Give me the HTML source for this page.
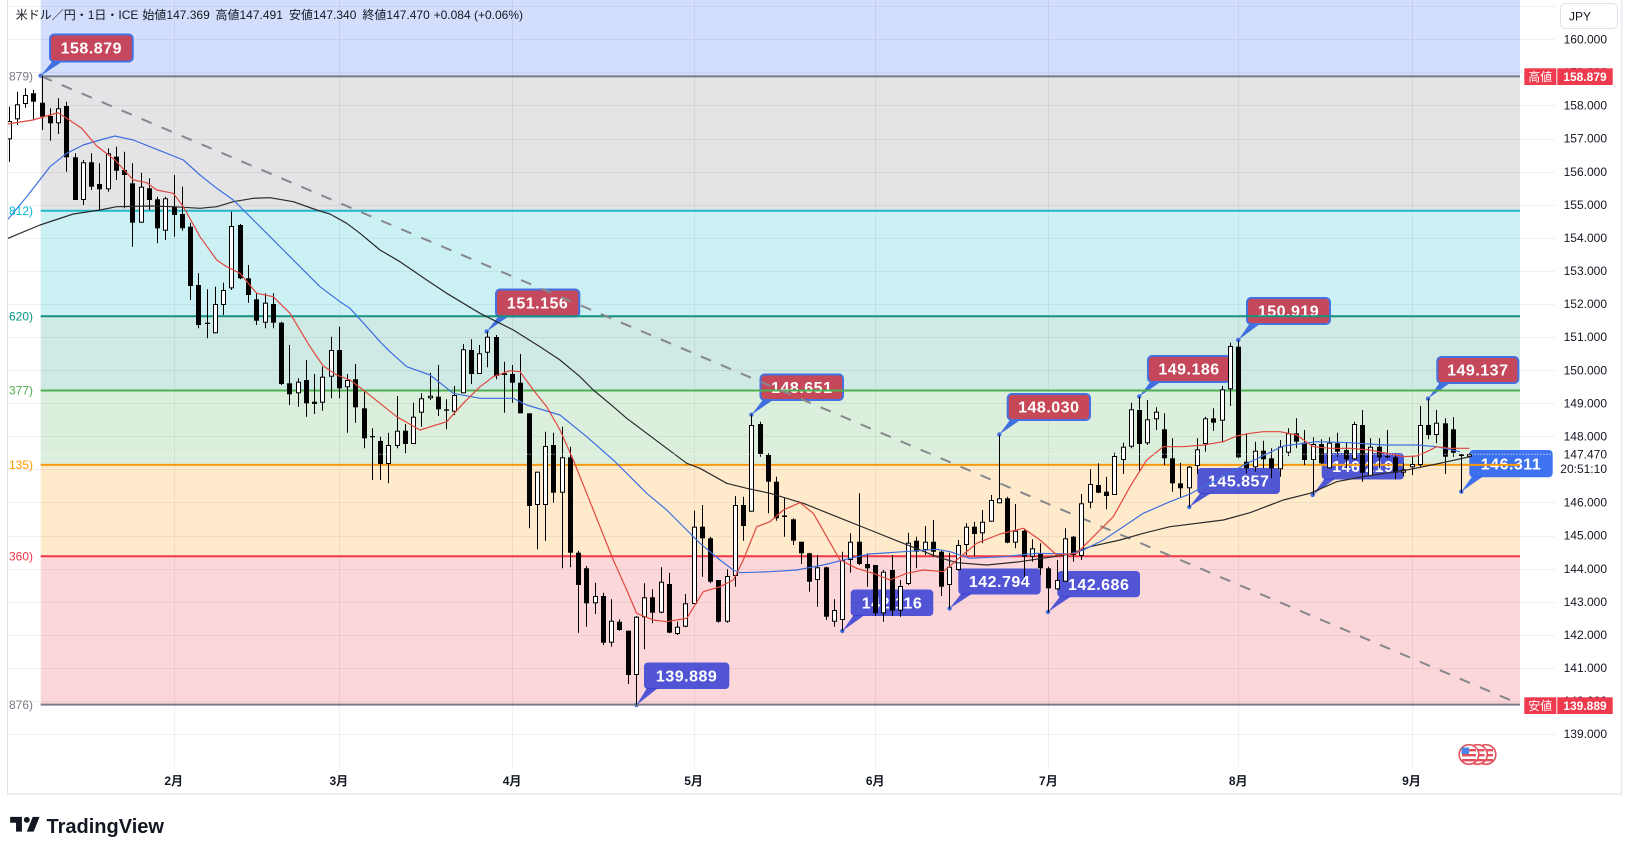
<!DOCTYPE html>
<html><head><meta charset="utf-8"><title>USDJPY chart</title>
<style>
html,body{margin:0;padding:0;background:#fff;}
body{width:1626px;height:852px;overflow:hidden;}
svg{display:block;font-family:"Liberation Sans","Noto Sans CJK JP",sans-serif;}
</style></head><body>
<svg id="s" width="1626" height="852" viewBox="0 0 1626 852" xmlns="http://www.w3.org/2000/svg">
<defs>
<clipPath id="plot"><rect x="7.5" y="0" width="1547.5" height="767"/></clipPath>
<clipPath id="lft"><rect x="7.5" y="0" width="40" height="767"/></clipPath>
</defs>
<rect width="1626" height="852" fill="#fff"/>

<!-- fib zone fills -->
<rect x="40.7" y="0" width="1479.3" height="76.4" fill="#d3defd"/>
<rect x="40.7" y="76.4" width="1479.3" height="134.4" fill="#e4e4e6"/>
<rect x="40.7" y="210.8" width="1479.3" height="105.5" fill="#ccf1f5"/>
<rect x="40.7" y="316.3" width="1479.3" height="74.2" fill="#cfe9e5"/>
<rect x="40.7" y="390.5" width="1479.3" height="74.4" fill="#dcefdc"/>
<rect x="40.7" y="464.9" width="1479.3" height="91.4" fill="#ffeacc"/>
<rect x="40.7" y="556.3" width="1479.3" height="148.3" fill="#fcd7da"/>

<g id="grid" stroke="rgba(42,46,57,0.07)" stroke-width="1"></g>
<g id="callouts"></g>

<!-- fib lines -->
<g stroke-width="2" fill="none">
<line x1="40.7" y1="76.4" x2="1520" y2="76.4" stroke="#787b86"/>
<line x1="40.7" y1="210.8" x2="1520" y2="210.8" stroke="#22b8cc"/>
<line x1="40.7" y1="316.3" x2="1520" y2="316.3" stroke="#15917f"/>
<line x1="40.7" y1="390.5" x2="1520" y2="390.5" stroke="#4caf50"/>
<line x1="40.7" y1="464.9" x2="1520" y2="464.9" stroke="#f79a10"/>
<line x1="40.7" y1="556.3" x2="1520" y2="556.3" stroke="#f23645"/>
<line x1="40.7" y1="704.6" x2="1520" y2="704.6" stroke="#787b86"/>
</g>

<!-- trend line -->
<line x1="41.7" y1="76.5" x2="1510" y2="700" stroke="#86878c" stroke-width="2" stroke-dasharray="11 10.7"/>

<g id="candles" clip-path="url(#plot)"></g>

<!-- moving averages -->
<g fill="none" stroke-width="1.2" clip-path="url(#plot)" stroke-linejoin="round">
<polyline stroke="#2b2b2b" points="8,238.3 40,225 73.3,214 100,210 116.7,206.7 150,206 173.3,206.7 200,208.3 216.7,206.7 233.3,201.7 253.3,198.3 270,197.7 293.3,201.7 316.7,210 330,214 346.7,223.3 360,233.3 380,250 400,261.7 426.7,280 446.7,293.3 480,313.3 513.3,330 540,346.7 560,360 580,376.7 593.3,390 613.3,406.7 626.7,418.3 646.7,433.3 666.7,448.3 686.7,463.3 700,468.3 726.7,483.3 746.7,488.3 770,493.3 803.3,503.3 836.7,516.7 870,530 903.3,543.3 936.7,556.7 956.7,562.7 986.7,565 1020,561.7 1053.3,556.7 1070,554 1090,546.7 1120,540 1143.3,533.3 1170,526.7 1223.3,520 1250,512.7 1283.3,500 1310,493.3 1336.7,481.7 1366.7,476 1403.3,470.7 1436.7,464 1470,456.7"/>
<polyline stroke="#3d6fe0" points="8,219.3 26.7,196.7 50,166.7 66.7,153.3 83.3,145 100,140 115,136 133.3,140 150,146.7 166.7,153.3 183.3,160 200,175 216.7,188.3 233.3,200 250,216.7 266.7,233.3 283.3,250 300,266.7 320,286.7 340,301.7 350,308.3 366.7,326.7 380,341.7 390,351.7 406.7,366.7 430,375 453.3,393.3 480,398.3 513.3,398.3 526.7,405 560,415 586.7,436.7 613.3,460 626.7,473.3 646.7,493.3 666.7,510 686.7,530 700,543.3 720,560 733.3,570 740,572.7 770,571.7 796.7,570 823.3,565 850,558.3 870,554 903.3,551.7 936.7,549.3 950,551.7 970,558.3 1003.3,556.7 1036.7,553.3 1070,554 1083.3,550 1103.3,540 1123.3,526.7 1143.3,513.3 1170,501.7 1190,494 1220,478 1250,462 1283.3,446 1316.7,441.7 1350,442.7 1383.3,445 1416.7,445 1436.7,446.7 1460,451.7"/>
<polyline stroke="#e0483e" points="8,124 33,120 50,115 58,112.7 66.7,118.3 81.7,128.3 96.7,146 115,160 133.3,180 146.7,182.7 156.7,190 173.3,193.3 183.3,206.7 200,236.7 216.7,260 226.7,266.7 240,273.3 256.7,293.3 273.3,296.7 290,313.3 310,346.7 323.3,366 336.7,375 350,380 363.3,390 380,403.3 396.7,416.7 420,430 446.7,421.7 463.3,403.3 480,386.7 493.3,376.7 510,370.7 520,371.7 533.3,390 546.7,406.7 560,430 573.3,460 586.7,493.3 600,526.7 613.3,560 626.7,590 636.7,613.3 653.3,620 666.7,621.7 686.7,618.3 703.3,591.7 720,586.7 733.3,580 743.3,560 756.7,526.7 770,521.7 783.3,510 800,502.7 813.3,513.3 826.7,536.7 840,560 856.7,568.3 873.3,573.3 890,580 906.7,573.3 923.3,570 943.3,571.7 956.7,560 976.7,543.3 1000,534 1023.3,528.3 1040,540 1056.7,555 1076.7,553.3 1093.3,536.7 1113.3,516.7 1130,486.7 1146.7,460 1163.3,446.7 1183.3,446.7 1203.3,445 1223.3,441.7 1236.7,436 1250,433.3 1263.3,431.7 1280,431.7 1296.7,435 1313.3,446.7 1330,448.3 1350,448.3 1370,450 1390,454 1403.3,456.7 1416.7,456 1426.7,451.7 1436.7,446.7 1450,448.3 1469.3,448.3"/>
</g>

<!-- current price dotted line -->
<line x1="7.5" y1="454.3" x2="1555" y2="454.3" stroke="#ffffff" stroke-width="1" stroke-dasharray="1 2"/>

<!-- left fib labels -->
<g clip-path="url(#lft)" font-size="12" text-anchor="end">
<text x="33" y="80.6" fill="#787b86">(158.879)</text>
<text x="33" y="215" fill="#00bcd4">(154.812)</text>
<text x="33" y="320.5" fill="#089981">(151.620)</text>
<text x="33" y="394.7" fill="#4caf50">(149.377)</text>
<text x="33" y="469.1" fill="#ff9800">(147.135)</text>
<text x="33" y="560.5" fill="#f23645">(144.360)</text>
<text x="33" y="708.8" fill="#787b86">(139.876)</text>
</g>

<!-- frame -->
<line x1="7.5" y1="0" x2="7.5" y2="794" stroke="#e0e3eb" stroke-width="1"/>
<line x1="7" y1="794" x2="1622.5" y2="794" stroke="#eceef2" stroke-width="2"/>
<line x1="1621.5" y1="0" x2="1621.5" y2="795" stroke="#eceef2" stroke-width="2"/>

<!-- header -->
<g font-size="12" fill="#131722">
<text x="15.7" y="19">米ドル／円・1日・ICE</text>
<text x="142.4" y="19">始値147.369</text>
<text x="215.5" y="19">高値147.491</text>
<text x="289" y="19">安値147.340</text>
<text x="362.4" y="19">終値147.470</text>
<text x="433.6" y="19">+0.084 (+0.06%)</text>
</g>

<!-- price axis -->
<rect x="1560.5" y="3.5" width="57" height="25" rx="5" fill="#fff" stroke="#e0e3eb"/>
<text x="1569" y="20.5" font-size="12" fill="#131722">JPY</text>
<g id="axis" font-size="12" fill="#131722" text-anchor="end"></g>
<text x="1607" y="458.5" font-size="12" fill="#131722" text-anchor="end">147.470</text>
<text x="1607" y="473.2" font-size="12" fill="#131722" text-anchor="end">20:51:10</text>
<g>
<rect x="1524.3" y="68.3" width="32" height="16.7" fill="#ee3a4c"/>
<rect x="1557.3" y="68.3" width="55.4" height="16.7" fill="#ee3a4c"/>
<text x="1540.3" y="81" font-size="12" fill="#fff" text-anchor="middle">高値</text>
<text x="1585" y="81" font-size="12" font-weight="bold" fill="#fff" text-anchor="middle">158.879</text>
<rect x="1524.3" y="697.3" width="32" height="16.7" fill="#ee3a4c"/>
<rect x="1557.3" y="697.3" width="55.4" height="16.7" fill="#ee3a4c"/>
<text x="1540.3" y="710" font-size="12" fill="#fff" text-anchor="middle">安値</text>
<text x="1585" y="710" font-size="12" font-weight="bold" fill="#fff" text-anchor="middle">139.889</text>
</g>

<!-- time axis -->
<g font-size="12" font-weight="bold" fill="#131722" text-anchor="middle">
<text x="173.7" y="785">2月</text>
<text x="338.8" y="785">3月</text>
<text x="512.1" y="785">4月</text>
<text x="693.6" y="785">5月</text>
<text x="875.2" y="785">6月</text>
<text x="1048.4" y="785">7月</text>
<text x="1238.2" y="785">8月</text>
<text x="1411.5" y="785">9月</text>
</g>

<!-- event flags -->
<g id="flags"></g>

<!-- logo -->
<g transform="translate(8.2,811) scale(0.98)" fill="#131722">
<path d="M14 6H2v6h6v9h6V6Zm12 15h-7l6-15h7l-6 15Zm-7-9a3 3 0 1 0 0-6 3 3 0 0 0 0 6Z"/>
</g>
<text x="46.5" y="833" font-size="20" font-weight="bold" fill="#131722">TradingView</text>
</svg>

<script>
(function(){
const NS='http://www.w3.org/2000/svg';
function el(t,a,p,tx){const e=document.createElementNS(NS,t);for(const k in a)e.setAttribute(k,a[k]);if(tx!=null)e.textContent=tx;p.appendChild(e);return e;}
const Y=p=>39.3+(160-p)*33.08;

// grid
const g=document.getElementById('grid');
for(let p=139;p<=161;p++){const y=Math.round(Y(p))+0.5;el('line',{x1:7.5,y1:y,x2:1555,y2:y},g);}
[173.7,338.8,512.1,693.6,875.2,1048.4,1238.2,1411.5].forEach(x=>{const xx=Math.round(x)+0.5;el('line',{x1:xx,y1:0,x2:xx,y2:767},g);});

// axis labels
const ax=document.getElementById('axis');
for(let p=139;p<=160;p++){ if(p===147) continue; el('text',{x:1607,y:(Y(p)+4.2).toFixed(1)},ax,p.toFixed(3)); }

// callouts
const CO=[
 ['158.879',50,34.5,132.7,61.5,40.7,75.7,'r'],
 ['151.156',496,289.5,579.3,316.5,486.7,331.5,'r'],
 ['148.651',760.5,374.5,843,400,751.4,414.7,'r'],
 ['148.030',1007.7,394,1090,420,999.3,434.5,'r'],
 ['149.186',1148,356,1230,382,1139.3,396.5,'r'],
 ['150.919',1247,298,1330,324,1238.3,340,'r'],
 ['149.137',1437.3,357,1518.3,383,1428,398.6,'r'],
 ['139.889',644,662.5,729.3,689,636.5,705,'b'],
 ['142.116',850.7,589.5,933.3,616,842.3,631,'b'],
 ['142.794',958.3,568.5,1040.7,594.5,949.6,608.5,'b'],
 ['142.686',1057.3,571,1140,597.3,1048,612,'b'],
 ['145.857',1197.3,468,1280,494,1189.3,507,'b'],
 ['146.219',1321.7,453,1404,479.5,1312.7,495,'b'],
 ['146.311',1469.3,450,1552.7,477.3,1461.3,491.7,'c']
];
const co=document.getElementById('callouts');
CO.forEach(([t,x1,y1,x2,y2,px,py,c])=>{
 const fill=c=='r'?'rgba(196,45,66,0.86)':(c=='b'?'rgba(52,62,212,0.86)':'rgba(36,96,240,0.88)');
 const pc=c=='r'?'#3f6fe0':fill;
 el('polygon',{points:(x1+3)+','+(y2-1)+' '+(x1+14)+','+(y2-1)+' '+px+','+py,fill:pc},co);
 el('rect',{x:x1,y:y1,width:(x2-x1).toFixed(1),height:(y2-y1).toFixed(1),rx:4,fill:fill,stroke:(c=='r'?'#4570e0':'none'),'stroke-width':2},co);
 el('text',{x:((x1+x2)/2).toFixed(1),y:((y1+y2)/2+5.6).toFixed(1),'text-anchor':'middle','font-size':16,'font-weight':'bold',fill:'#fff','letter-spacing':'0.5'},co,t);
 el('circle',{cx:px,cy:py,r:2.2,fill:'#3f6fe0'},co);
});

// candles: [wickTop, wickBottom, bodyTop, bodyBottom, up]
const C=[
[106.7,161.7,121,139.3,1],[91.7,125,104.3,119.3,1],[88.3,107.7,95,104,1],[90,119.3,93.3,101.7,0],
[75.7,130,102.7,116.7,0],[108.3,140.7,116,123.3,0],[98.3,134,108.3,123.3,1],[101.7,171.7,106,157.3,0],
[153.3,200,157.3,200,0],[160,205,162.3,200,1],[153.3,190,162.3,186.7,0],[163.3,210.7,184,189.3,0],
[148.3,191.7,153.3,189.3,1],[146.7,180,156.7,170.7,0],[151.7,208.3,170,175,0],[163.3,246.7,183.3,222.7,0],
[172.7,222.7,186.7,222.7,1],[178.3,210,188.3,200,0],[196.7,243.3,199.3,228.3,0],[196.7,240,198.3,230.7,1],
[175,236.7,206.7,215,0],[186.7,230.7,214,228.3,0],[222.7,300,226.7,286,0],[273.3,328.3,285,325,0],
[289.3,338.3,322.7,324,0],[286.7,333.3,304,333.3,1],[282.7,315,290,305,1],[211.7,290,226,288.3,1],
[224,279.3,225,278.3,0],[265,302.7,278.3,295,0],[293.3,325,299.3,320.7,0],[293.3,328.3,302.7,322.7,1],
[293.3,328.3,304,322.7,0],[321.7,385,322.7,384,0],[345,405,383.3,394.3,0],[378.3,406.7,381.7,393.3,1],
[360,416.7,380,403.3,0],[374,414,401.7,404,0],[366.7,410.7,376.7,402.7,1],[336.7,398.3,350,376.7,1],
[326.7,398.3,350,388.3,0],[374,432.7,380,387.3,1],[364,422.7,379.3,407.3,0],[391.7,448.3,408.3,438.3,0],
[428.3,480,436,437.3,0],[436.7,480,441,464,0],[432.7,483.3,445,464,1],[396,448.3,430.7,446,1],
[424,453.3,430.7,444,0],[402.7,444,416.7,444,1],[393.3,426.7,398.3,412.7,1],[372.7,400,395.7,398.3,1],
[365,416,396.7,409.3,0],[399.3,429.3,409.3,410.7,0],[386,415,395,411.7,1],[344,393.3,349.3,393.3,1],
[339.3,384,350,374,0],[345,374,353.3,374,1],[331.5,367.3,336.7,352.7,1],[335,379.3,337,376,0],
[361.7,412.7,373.3,375,1],[365,402.7,374,382.7,0],[354,413.3,382.7,413.3,0],[413.3,528.3,413.3,506,0],
[471.7,549.3,471.7,505,1],[431.7,540.7,446,505,1],[432.7,502.7,445,492.7,0],[426.7,568.3,457.3,492.7,1],
[446.7,567.3,457.3,552.7,0],[550.7,632.7,552.7,585,0],[566,626.7,568.3,603.3,0],[582.7,614,596,603.3,1],
[592.7,645,596,642.7,0],[599.3,646.7,620.7,642.7,1],[619.3,630.7,621.7,630,0],[630.7,684,630.7,675,0],
[616,705,616.7,675,1],[583.3,649.3,597.3,617.3,1],[589.3,623.3,597.3,612.7,0],[567.3,613.3,581.7,612.7,1],
[572.7,633.3,584,632.7,0],[621.7,635,626.7,634,1],[594,627.3,603.3,626.7,1],[510.7,604,526.7,604,1],
[505,576.7,526.7,538.3,0],[536.7,583.3,538.3,581.7,0],[580,622.7,580,621.7,0],[569.3,622.7,576,621.7,1],
[496,586.7,505,576,1],[496.7,540.7,505,526,0],[414.7,511.7,425,511.7,1],[421.7,456.7,424,454,0],
[453.3,513.3,455,481.7,0],[476.7,520.7,481.7,518.3,0],[498.3,536.7,515.5,517,0],[518.3,545,519.3,540.7,0],
[541.7,564,541.7,553.3,0],[552.7,591.7,553.3,581.7,0],[555,606.7,567.3,580,1],[566.7,620,567.3,616.7,0],
[599.3,626.7,610,621.7,1],[551.7,631,560,620,1],[533.3,572.7,541.7,560,1],[493.3,565,541.7,564,0],
[553.3,586.7,564,568.3,0],[565,616,565,613.3,0],[570,621.7,571.7,613.3,1],[555,616,570,610.7,0],
[580,616.7,586,610.7,1],[532.7,585,542.7,584,1],[536.7,568.3,540.7,551.7,0],[526,555,541.7,550,1],
[520,556.7,541.7,551.7,0],[550.7,596,551.7,586.7,0],[552.7,608.5,566.7,585,1],[540,570.7,545,570,1],
[523.3,555,526.7,545,1],[521.7,556,526.7,534,0],[510,543.3,521.7,533.3,1],[495,521.7,500,521.7,1],
[435.3,503.3,498.3,503.3,1],[496.7,543.3,498.3,542.7,0],[504,548.3,530.7,542.7,1],[529.3,576.7,530.7,556.7,0],
[539.3,561.7,548.3,556.7,1],[543.3,575,553.3,568.3,0],[566.7,612,568.3,588.3,0],[560,590,580,589.3,1],
[528.3,581.7,538.3,581.7,1],[536,561.7,536.7,555,0],[494,560,503.3,556,1],[469.3,508.3,484,502.7,1],
[463.3,493.3,485,492.7,0],[476.7,509.3,491.7,496,0],[452.7,495,456,495,1],[442.7,474,446.7,460,1],
[402.7,448.3,409.3,446.7,1],[397,470.7,410,444,0],[400,445,419.3,443.3,1],[407.3,430,411.7,419.3,1],
[413.3,465,429.3,458.3,0],[438.3,491.7,458.3,483.3,0],[462.7,497.3,483.3,488.3,0],[466,507,466.7,488.3,1],
[438.3,474,449.3,466,1],[416.7,451.7,418.3,444,1],[408.3,430.7,418.3,422.7,0],[386,441.7,389.3,420.7,1],
[342.7,406,346,389.3,1],[340.7,458.3,346.7,457.3,0],[433.3,473.3,461.7,468.3,0],[441.7,471.7,450.7,467.3,1],
[440.7,468.3,450.7,459.3,0],[448.3,478.3,458.3,468.3,0],[440,476.7,446.7,469.3,1],[428.3,456,433.3,452.7,1],
[418.3,448.3,433.3,441.7,0],[430,465,442.7,460,0],[437.3,495,444,460,1],[439.3,464,444,463.3,0],
[437.3,468.3,442.7,468.3,1],[432.7,456.7,443.3,451.7,0],[442.7,468.3,450,459.3,0],[421.7,460,424,459.3,1],
[410,481.7,425,472.7,0],[438.3,476,446.7,476,1],[438.3,468.3,446.7,457.3,0],[430,458.3,456,456.7,0],
[454,479.3,457.3,472.7,0],[463.3,476,469.3,472.7,1],[456,475,464,467.3,1],[406,466.7,425,465,1],
[398.6,439.3,425,435,0],[410,443.3,422.7,435,1],[418.3,474,423.3,456.7,0],[417.3,456.7,429.3,452.7,0],
[454,492.1,454,456,0],[453.3,456.7,454,456.7,1]
];
const gc=document.getElementById('candles');
const X0=41.7, DX=8.252;
C.forEach((d,k)=>{
 const i=k-4; const cx=Math.round(X0+i*DX)+0.5;
 const wt=d[0],wb=d[1],bt=d[2],bb=d[3],u=d[4];
 el('line',{x1:cx,y1:wt,x2:cx,y2:wb,stroke:'#000','stroke-width':1},gc);
 const h=bb-bt;
 if(u && h>=2){
   el('rect',{x:cx-2,y:(bt+0.5).toFixed(1),width:4,height:(h-1).toFixed(1),fill:'#fff',stroke:'#000','stroke-width':1},gc);
 } else {
   el('rect',{x:cx-2.5,y:bt.toFixed(1),width:5,height:Math.max(h,1.2).toFixed(1),fill:'#000'},gc);
 }
});

// flags
const fg=document.getElementById('flags');
[1486,1477.5,1469].forEach((cx,j)=>{
 const cy=754.5;
 el('circle',{cx:cx,cy:cy,r:9.8,fill:'#fff',stroke:'#e3505c','stroke-width':1.6},fg);
 [-5.5,-0.5,4.5].forEach(o=>{el('rect',{x:cx-7,y:cy+o,width:14,height:2.4,fill:'#e3505c'},fg);});
 if(j===2){el('rect',{x:cx-7.5,y:cy-7,width:7.5,height:6.5,fill:'#4a86e8'},fg);}
});
})();
</script>
</body></html>
